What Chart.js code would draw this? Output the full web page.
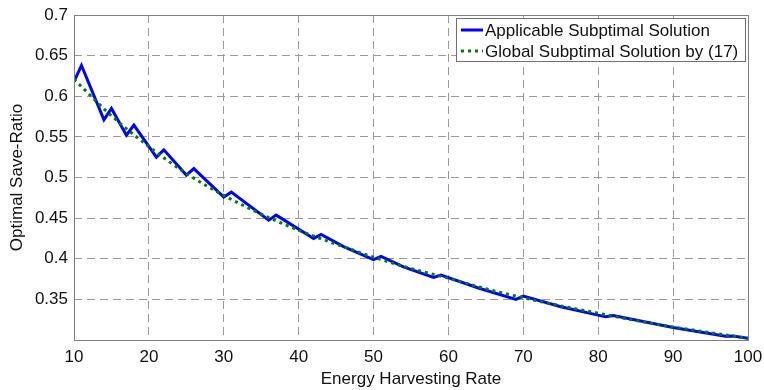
<!DOCTYPE html>
<html>
<head>
<meta charset="utf-8">
<script src="https://cdn.jsdelivr.net/npm/chart.js@4.4.1/dist/chart.umd.min.js"></script>
<style>
  html, body { margin: 0; padding: 0; background: #fff; }
  #box { width: 764px; height: 390px; }
</style>
</head>
<body>
<div id="box"><canvas id="grafico" width="764" height="390"></canvas></div>
<script>
// applicable (stepwise) solution
const blueX = [10, 11, 14, 15, 17, 18, 21, 22, 25, 26, 30, 31, 36, 37, 42, 43, 46, 50, 51, 54, 58, 59, 64, 69, 70, 75, 81, 82, 90, 97, 98, 100];
const blueY = [0.618, 0.638, 0.571, 0.585, 0.552, 0.5645, 0.525, 0.534, 0.503, 0.511, 0.476, 0.482, 0.4475, 0.4537, 0.425, 0.430, 0.415, 0.399, 0.403, 0.390, 0.377, 0.380, 0.364, 0.350, 0.354, 0.341, 0.3285, 0.330, 0.3155, 0.3045, 0.3048, 0.302];

// global solution by (17)
const greenX = [10, 15, 20, 25, 30, 35, 40, 45, 50, 55, 60, 65, 70, 75, 80, 85, 90, 95, 100];
const greenY = [0.621, 0.576, 0.538, 0.505, 0.478, 0.455, 0.435, 0.418, 0.402, 0.388, 0.376, 0.363, 0.352, 0.342, 0.333, 0.324, 0.316, 0.309, 0.302];

const nomes = ['Applicable Subptimal Solution', 'Global Subptimal Solution by (17)'];
const xTicks = [10, 20, 30, 40, 50, 60, 70, 80, 90, 100];
const yTicks = [0.35, 0.4, 0.45, 0.5, 0.55, 0.6, 0.65, 0.7];

const fonte = "'Liberation Sans', Arial, sans-serif";
const corGrade = '#9a9a9a';

const pontos = (xs, ys) => xs.map((x, i) => ({ x: x, y: ys[i] }));

// moldura em volta da area do grafico + legenda dentro dela
const moldura = {
  id: 'moldura',
  afterDatasetsDraw(chart) {
    const { ctx, chartArea: a } = chart;
    ctx.save();
    ctx.strokeStyle = '#808080';
    ctx.lineWidth = 1;
    ctx.strokeRect(a.left + 0.5, a.top + 0.5, a.right - a.left, a.bottom - a.top);

    // legenda
    const lx = 456, ly = 18, lw = 289, lh = 43;
    ctx.fillStyle = '#fff';
    ctx.fillRect(lx, ly, lw, lh);
    ctx.strokeStyle = '#707070';
    ctx.strokeRect(lx + 0.5, ly + 0.5, lw, lh);
    ctx.font = '17px ' + fonte;
    ctx.textBaseline = 'middle';
    chart.data.datasets.forEach((ds, i) => {
      const y = ly + 12 + i * 21;
      ctx.beginPath();
      ctx.strokeStyle = ds.borderColor;
      ctx.lineWidth = 3;
      ctx.setLineDash(ds.borderDash || []);
      ctx.moveTo(lx + 5, y);
      ctx.lineTo(lx + 27, y);
      ctx.stroke();
      ctx.setLineDash([]);
      ctx.fillStyle = '#111';
      ctx.fillText(ds.label, lx + 29, y + 1);
    });
    ctx.restore();
  }
};

const grafico = new Chart(document.getElementById('grafico'), {
  type: 'line',
  data: {
    datasets: [
      {
        label: nomes[0],
        data: pontos(blueX, blueY),
        borderColor: '#0000ff',
        borderWidth: 3,
        pointRadius: 0,
        tension: 0,
        order: 1
      },
      {
        label: nomes[1],
        data: pontos(greenX, greenY),
        borderColor: '#008000',
        borderWidth: 3,
        borderDash: [3, 4],
        pointRadius: 0,
        cubicInterpolationMode: 'monotone',
        order: 0
      }
    ]
  },
  options: {
    responsive: false,
    animation: false,
    layout: { padding: { top: 15, right: 16, left: 0, bottom: 0 } },
    plugins: {
      legend: { display: false },
      tooltip: { enabled: false }
    },
    scales: {
      x: {
        type: 'linear',
        min: 10,
        max: 100,
        afterBuildTicks: (s) => { s.ticks = xTicks.map(v => ({ value: v })); },
        afterFit: (s) => { s.height = 50; s.paddingLeft = 0; s.paddingRight = 0; },
        ticks: {
          color: '#111',
          font: { family: fonte, size: 17 },
          padding: 7,
          maxRotation: 0,
          callback: (v) => String(v)
        },
        grid: {
          color: (c) => (c.tick && (c.tick.value === 10 || c.tick.value === 100)) ? 'rgba(0,0,0,0)' : corGrade,
          drawTicks: false
        },
        border: { display: false, dash: [8, 5] },
        title: {
          display: true,
          text: 'Energy Harvesting Rate',
          color: '#111',
          font: { family: fonte, size: 17 },
          padding: { top: 0, bottom: 0 }
        }
      },
      y: {
        min: 0.3,
        max: 0.7,
        afterBuildTicks: (s) => { s.ticks = yTicks.map(v => ({ value: v })); },
        afterFit: (s) => { s.width = 74; s.paddingTop = 0; s.paddingBottom = 0; },
        ticks: {
          color: '#111',
          font: { family: fonte, size: 17 },
          padding: 6,
          callback: (v) => String(Number(v.toFixed(2)))
        },
        grid: {
          color: (c) => (c.tick && c.tick.value >= 0.699) ? 'rgba(0,0,0,0)' : corGrade,
          drawTicks: false
        },
        border: { display: false, dash: [8, 5] },
        title: {
          display: true,
          text: 'Optimal Save-Ratio',
          color: '#111',
          font: { family: fonte, size: 17 },
          padding: { top: 7, bottom: 0 }
        }
      }
    }
  },
  plugins: [moldura]
});
</script>
</body>
</html>
